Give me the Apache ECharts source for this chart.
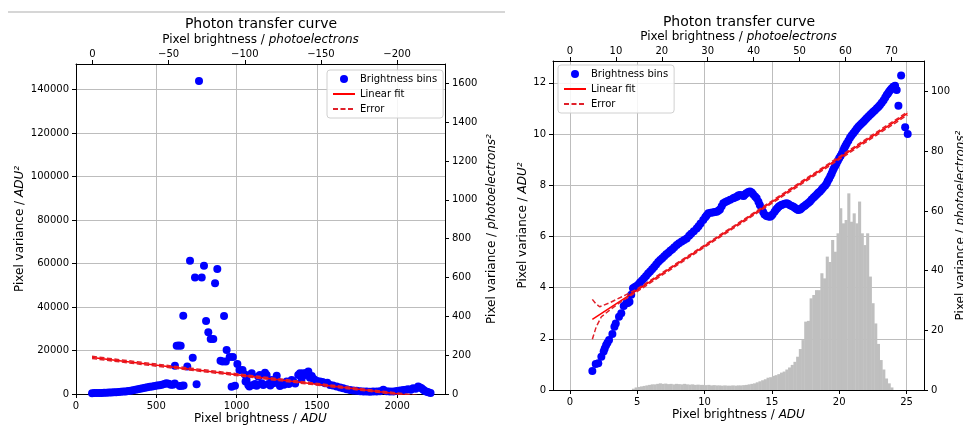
<!DOCTYPE html>
<html><head><meta charset="utf-8">
<script src="https://cdn.jsdelivr.net/npm/echarts@6/dist/echarts.min.js"></script>
<style>html,body{margin:0;padding:0;background:#fff}#c{width:963px;height:429px}</style>
</head><body><div id="c"></div>
<script>
// ---------- DATA ----------
const leftBins = [
 [100,400],[115,420],[130,450],[145,470],[160,500],[175,540],[190,600],[205,640],[220,700],[235,760],[250,850],[265,920],[280,1000],[295,1100],[310,1200],[325,1350],[340,1500],[355,1700],[370,1900],[385,2150],[400,2400],[415,2650],[430,2900],[445,3100],[460,3300],[475,3500],[490,3700],[505,3900],[520,4000],[535,4300],[550,4600],[563,4900],[577,4700],[590,4300],[603,4200],[615,4800],
 [616,13000],[627,22200],[640,22300],[652,22200],[646,3700],[660,3800],[670,3900],[668,36000],[693,12600],[710,61300],[727,16700],[741,53500],[751,4460],[783,53500],[797,59000],[810,33600],[824,28400],[839,25300],[855,25300],[866,50900],[880,57500],[900,15300],[913,14900],[922,35900],[933,14900],[938,20200],[957,17000],[969,3360],[977,17000],[990,3800],[1005,13800],[1018,11000],[1037,11000],[766,143900],
 [1052,9000],[1056,5700],[1062,6400],[1073,4100],[1080,3400],[1094,9500],[1104,4100],[1115,4600],[1125,3800],[1135,8000],[1145,8700],[1156,4900],[1166,4100],[1177,9800],[1187,8700],[1198,4600],[1210,3900],[1219,6400],[1230,4900],[1250,8400],[1260,5500],[1270,3700],[1281,4900],[1295,4200],[1312,5700],[1325,4600],[1343,6400],[1353,5700],[1365,4800],[1384,8700],[1395,9500],[1405,7000],[1416,9500],[1426,8700],[1437,9800],[1447,10300],[1457,7500],[1468,8300],[1478,7000],[1488,6400],[1500,6000],[1519,5700],[1535,5500],[1551,4900],[1565,5200],[1582,4100],[1600,3900],[1623,3400],[1645,3000],[1664,2600],[1685,2200],[1706,1800],[1727,1600],[1748,1500],[1770,1300],[1790,1200],[1810,1100],[1830,1000],[1850,1100],[1872,1100],[1893,1300],[1914,1900],[1935,1300],[1955,1100],[1976,1200],[1997,1400],[2018,1600],[2038,1800],[2055,2000],[2069,2200],[2085,2000],[2100,2600],[2115,2400],[2131,3400],[2142,3000],[2152,2600],[2163,2000],[2173,1400],[2184,1000],[2194,800],[2208,500]
];
const leftFit = [[100,16800],[2200,-1680]];
const leftErrUpper = [[100,17300],[2200,-1300]];
const leftErrLower = [[100,16300],[2200,-2000]];

const rightBins = [
 [1.66,0.74],[1.91,1.02],[2.10,1.04],[2.33,1.30],[2.50,1.50],[2.58,1.62],[2.68,1.75],[2.78,1.85],[2.90,1.95],[3.15,2.19],[3.30,2.47],[3.40,2.60],[3.64,2.86],[3.81,3.00],[3.99,3.28],[4.18,3.39],[4.30,3.40],[4.42,3.45],[4.55,3.72],[4.68,3.97],[4.82,4.02],[4.95,4.06],[5.08,4.12],[5.2,4.2],[5.35,4.28],[5.5,4.36],[5.65,4.45],[5.8,4.55],[5.95,4.63],[6.1,4.72],[6.25,4.8],[6.4,4.9],[6.55,5.0],[6.7,5.08],[6.85,5.15],[7.0,5.22],[7.15,5.3],[7.3,5.36],[7.45,5.44],[7.6,5.5],[7.75,5.58],[7.93,5.66],[8.1,5.73],[8.3,5.8],[8.48,5.86],[8.67,5.92],[8.85,6.02],[9.0,6.1],[9.2,6.2],[9.41,6.31],[9.55,6.4],[9.7,6.5],[9.9,6.64],[10.05,6.75],[10.15,6.82],[10.28,6.9],[10.45,6.92],[10.6,6.93],[10.75,6.95],[10.9,6.96],[11.02,7.0],[11.14,7.05],[11.27,7.18],[11.39,7.29],[11.55,7.34],[11.7,7.38],[11.9,7.43],[12.13,7.49],[12.25,7.52],[12.4,7.55],[12.5,7.6],[12.63,7.62],[12.78,7.6],[12.9,7.58],[13.0,7.64],[13.1,7.68],[13.25,7.73],[13.37,7.75],[13.5,7.71],[13.6,7.65],[13.75,7.56],[13.87,7.49],[14.0,7.35],[14.1,7.23],[14.24,7.1],[14.35,6.95],[14.45,6.85],[14.6,6.8],[14.73,6.78],[14.86,6.77],[14.95,6.8],[15.05,6.85],[15.2,6.96],[15.3,7.04],[15.4,7.1],[15.5,7.16],[15.6,7.2],[15.7,7.23],[15.8,7.25],[15.95,7.27],[16.1,7.29],[16.22,7.26],[16.35,7.22],[16.48,7.19],[16.6,7.16],[16.7,7.12],[16.8,7.08],[16.9,7.05],[16.96,7.03],[17.1,7.05],[17.2,7.1],[17.33,7.16],[17.45,7.2],[17.55,7.25],[17.7,7.3],[17.83,7.36],[17.95,7.44],[18.1,7.52],[18.22,7.58],[18.35,7.65],[18.45,7.7],[18.57,7.75],[18.7,7.83],[18.8,7.9],[18.95,7.98],[19.07,8.07],[19.15,8.16],[19.25,8.25],[19.35,8.36],[19.44,8.46],[19.52,8.56],[19.6,8.65],[19.7,8.75],[19.8,8.85],[19.9,8.95],[20.0,9.05],[20.1,9.14],[20.2,9.24],[20.3,9.35],[20.38,9.45],[20.47,9.54],[20.56,9.63],[20.68,9.74],[20.8,9.85],[20.92,9.94],[21.05,10.03],[21.18,10.12],[21.3,10.2],[21.42,10.28],[21.55,10.35],[21.68,10.42],[21.8,10.48],[21.92,10.55],[22.04,10.61],[22.17,10.68],[22.3,10.75],[22.42,10.81],[22.53,10.87],[22.66,10.93],[22.8,11.0],[22.92,11.06],[23.03,11.13],[23.16,11.22],[23.3,11.32],[23.42,11.42],[23.53,11.52],[23.62,11.58],[23.7,11.65],[23.8,11.72],[23.9,11.78],[24.02,11.84],[24.15,11.88],[24.27,11.72],[24.4,11.1],[24.6,12.28],[24.9,10.26],[25.09,10.0]
];
const rightFit = [[1.66,2.76],[25.07,10.8]];
const rightErrUpper = [[1.66,3.54],[1.9,3.38],[2.2,3.25],[2.45,3.3],[3.0,3.42],[4.0,3.68],[5.0,3.95],[10,5.66],[25.07,10.86]];
const rightErrLower = [[1.66,1.98],[1.95,2.47],[2.33,2.86],[2.95,3.12],[3.69,3.41],[5.0,3.85],[10,5.58],[25.07,10.74]];

// histogram of pixel brightness (ADU), bins of histBinWidth starting at histBinStart
const histBinStart = 4.6, histBinWidth = 0.2;
const histCounts = [50,100,120,140,160,180,200,220,220,240,260,240,250,230,240,220,240,230,220,240,220,210,220,200,210,200,200,190,200,180,190,180,180,170,180,170,170,180,170,180,180,190,200,220,240,260,300,340,380,420,480,500,550,580,620,680,720,800,880,980,1100,1300,1600,1950,2670,2700,3580,3710,3900,3900,4560,4360,5210,5000,5860,5400,6120,7100,6510,6640,7680,6570,6900,6510,7360,6120,5660,6120,4430,3390,2600,1800,1170,800,450,260,100];

const leftXTicks = [0,500,1000,1500,2000];
const leftTopTicks = [0,-50,-100,-150,-200];
const leftYTicks = [0,20000,40000,60000,80000,100000,120000,140000];
const leftY2Ticks = [0,200,400,600,800,1000,1200,1400,1600];
const rightXTicks = [0,5,10,15,20,25];
const rightTopTicks = [0,10,20,30,40,50,60,70];
const rightYTicks = [0,2,4,6,8,10,12];
const rightY2Ticks = [0,20,40,60,80,100];

// ---------- CHART ----------
const F = '"DejaVu Sans", Verdana, sans-serif';
const chart = echarts.init(document.getElementById('c'), null, {renderer:'canvas'});
const minus = v => (v < 0 ? '\u2212' + (-v) : String(v));
const rich = {
  a:{fontFamily:F,fontSize:12,color:'#000'},
  b:{fontFamily:F,fontSize:12,color:'#000',fontStyle:'italic'}
};
function ax(o){
  const base = {
    type:'value', nameLocation:'middle', nameMoveOverlap:false,
    axisLine:{show:true,onZero:false,lineStyle:{color:'#000',width:1}},
    axisTick:{show:true,length:4,customValues:o.ticks,lineStyle:{color:'#000',width:1}},
    axisLabel:{customValues:o.ticks,fontFamily:F,fontSize:10,color:'#000',margin:o.margin||7,formatter:o.fmt||(v=>String(v))},
    splitLine:{show:!!o.split,lineStyle:{color:'#bdbdbd',width:1}},
    nameTextStyle:{fontFamily:F,fontSize:12,color:'#000',rich:rich}
  };
  delete o.ticks; delete o.split; delete o.fmt; delete o.margin;
  return Object.assign(base,o);
}
const hist = histCounts.map((c,i)=>[histBinStart+i*histBinWidth, histBinStart+(i+1)*histBinWidth, c]);

const legendBase = {
  orient:'vertical', itemWidth:22, itemHeight:8, itemGap:5, padding:[4,6,4,5],
  backgroundColor:'rgba(255,255,255,0.85)', borderColor:'#d0d0d0', borderWidth:1, borderRadius:3,
  textStyle:{fontFamily:F,fontSize:10,color:'#000'}, selectedMode:false,
  data:[{name:'Brightness bins',icon:'circle'},
        {name:'Linear fit',itemStyle:{opacity:0}},
        {name:'Error',itemStyle:{opacity:0}}]
};

const option = {
  animation:false,
  backgroundColor:'#fff',
  grid:[
    {left:76, top:64, width:369, height:330, containLabel:false, outerBoundsMode:'none'},
    {left:553, top:61, width:371, height:329, containLabel:false, outerBoundsMode:'none'}
  ],
  graphic:[
    {type:'line', shape:{x1:8,y1:12,x2:505,y2:12}, style:{stroke:'#d6d6d6',lineWidth:2}},
    {type:'text', x:261, y:24, style:{text:'Photon transfer curve', font:'14px "DejaVu Sans"', fill:'#000', align:'center', verticalAlign:'middle', textAlign:'center', textVerticalAlign:'middle'}},
    {type:'text', x:739, y:22, style:{text:'Photon transfer curve', font:'14px "DejaVu Sans"', fill:'#000', align:'center', verticalAlign:'middle', textAlign:'center', textVerticalAlign:'middle'}}
  ],
  legend:[
    Object.assign({}, legendBase, {left:327, top:70}),
    Object.assign({}, legendBase, {left:558, top:65})
  ],
  xAxis:[
    ax({gridIndex:0, position:'bottom', min:0, max:2298, ticks:leftXTicks, split:true,
        name:'{a|Pixel brightness / }{b|ADU}', nameGap:19}),
    ax({gridIndex:0, position:'top', min:-231.5, max:10.84, inverse:true, ticks:leftTopTicks, fmt:minus, margin:5,
        name:'{a|Pixel brightness / }{b|photoelectrons}', nameGap:18}),
    ax({gridIndex:1, position:'bottom', min:-1.263, max:26.3, ticks:rightXTicks, split:true,
        name:'{a|Pixel brightness / }{b|ADU}', nameGap:19}),
    ax({gridIndex:1, position:'top', min:-3.70, max:77.1, ticks:rightTopTicks, margin:5,
        name:'{a|Pixel brightness / }{b|photoelectrons}', nameGap:18})
  ],
  yAxis:[
    ax({gridIndex:0, position:'left', min:0, max:151700, ticks:leftYTicks, split:true,
        name:'{a|Pixel variance / }{b|ADU²}', nameRotate:90, nameGap:50}),
    ax({gridIndex:0, position:'right', min:0, max:1700, ticks:leftY2Ticks,
        name:'{a|Pixel variance / }{b|photoelectrons²}', nameRotate:90, nameGap:41}),
    ax({gridIndex:1, position:'left', min:0, max:12.85, ticks:rightYTicks, split:true,
        name:'{a|Pixel variance / }{b|ADU²}', nameRotate:90, nameGap:24}),
    ax({gridIndex:1, position:'right', min:0, max:110.3, ticks:rightY2Ticks,
        name:'{a|Pixel variance / }{b|photoelectrons²}', nameRotate:90, nameGap:31}),
    {type:'value', gridIndex:1, show:false, min:0, max:12850, splitLine:{show:false}}
  ],
  series:[
    {name:'Brightness bins', type:'scatter', xAxisIndex:0, yAxisIndex:0, data:leftBins, symbolSize:8,
     itemStyle:{color:'#0000ff',opacity:1}, z:2},
    {name:'Linear fit', type:'line', xAxisIndex:0, yAxisIndex:0, data:leftFit, symbol:'none', showSymbol:false,
     lineStyle:{color:'#ff0000',width:1.5}, itemStyle:{color:'#ff0000'}, z:3},
    {name:'Error', type:'line', xAxisIndex:0, yAxisIndex:0, data:leftErrUpper, symbol:'none', showSymbol:false,
     lineStyle:{color:'#e0202a',width:1.5,type:[5,2.5]}, itemStyle:{color:'#e0202a'}, z:3},
    {name:'Error', type:'line', xAxisIndex:0, yAxisIndex:0, data:leftErrLower, symbol:'none', showSymbol:false,
     lineStyle:{color:'#e0202a',width:1.5,type:[5,2.5]}, itemStyle:{color:'#e0202a'}, z:3},

    {name:'hist', type:'custom', xAxisIndex:2, yAxisIndex:4, data:hist, encode:{x:[0,1],y:2}, z:1,
     renderItem:function(params, api){
       const p0 = api.coord([api.value(0), api.value(2)]);
       const p1 = api.coord([api.value(1), 0]);
       return {type:'rect', shape:{x:p0[0], y:p0[1], width:p1[0]-p0[0]+0.4, height:p1[1]-p0[1]},
               style:{fill:'#bfbfbf'}};
     }},
    {name:'Brightness bins', type:'scatter', xAxisIndex:2, yAxisIndex:2, data:rightBins, symbolSize:8,
     itemStyle:{color:'#0000ff',opacity:1}, z:2},
    {name:'Linear fit', type:'line', xAxisIndex:2, yAxisIndex:2, data:rightFit, symbol:'none', showSymbol:false,
     lineStyle:{color:'#ff0000',width:1.5}, itemStyle:{color:'#ff0000'}, z:3},
    {name:'Error', type:'line', xAxisIndex:2, yAxisIndex:2, data:rightErrUpper, symbol:'none', showSymbol:false,
     lineStyle:{color:'#e0202a',width:1.5,type:[5,2.5]}, itemStyle:{color:'#e0202a'}, z:3},
    {name:'Error', type:'line', xAxisIndex:2, yAxisIndex:2, data:rightErrLower, symbol:'none', showSymbol:false,
     lineStyle:{color:'#e0202a',width:1.5,type:[5,2.5]}, itemStyle:{color:'#e0202a'}, z:3}
  ]
};
chart.setOption(option);
</script></body></html>
